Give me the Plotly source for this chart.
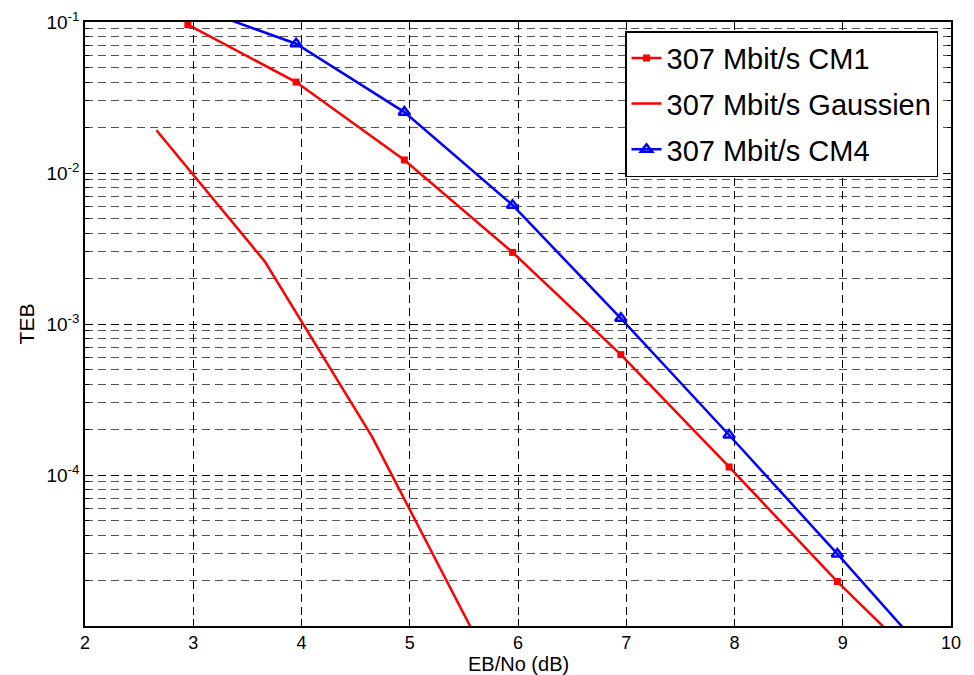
import plotly.graph_objects as go

# Data
x_cm1 = [2.95, 3.95, 4.95, 5.95, 6.95, 7.95, 8.95, 9.95]
y_cm1 = [0.096, 0.040, 0.0122, 0.00298, 6.27e-4, 1.13e-4, 1.97e-5, 3.9e-6]

x_gauss = [2.66, 3.66, 4.65, 5.66]
y_gauss = [0.0192, 2.6e-3, 1.8e-4, 7.2e-6]

x_cm4 = [2.95, 3.95, 4.95, 5.95, 6.95, 7.95, 8.95, 9.95]
y_cm4 = [0.13, 0.0718, 0.0253, 0.00612, 1.09e-3, 1.84e-4, 3.0e-5, 4.7e-6]

y_major = [1e-4, 1e-3, 1e-2, 1e-1]
y_major_text = ["10<sup>-4</sup>", "10<sup>-3</sup>", "10<sup>-2</sup>", "10<sup>-1</sup>"]
y_minor = [m * 10.0 ** e for e in range(-5, -1) for m in range(2, 10)]
x_ticks = [2, 3, 4, 5, 6, 7, 8, 9, 10]
x_title = "EB/No (dB)"
y_title = "TEB"

FONT = "Liberation Sans, Arial, sans-serif"

fig = go.Figure()
fig.add_trace(go.Scatter(
    x=x_cm1, y=y_cm1, mode="lines+markers", name="307 Mbit/s CM1",
    legendgroup="a",
    line=dict(color="#ff0000", width=2.5),
    marker=dict(symbol="square", size=7, color="#ff0000"),
))
fig.add_trace(go.Scatter(
    x=x_gauss, y=y_gauss, mode="lines", name="307 Mbit/s Gaussien",
    legendgroup="b",
    line=dict(color="#ff0000", width=2.5),
))
fig.add_trace(go.Scatter(
    x=x_cm4, y=y_cm4, mode="lines+markers", name="307 Mbit/s CM4",
    legendgroup="c",
    line=dict(color="#0000ff", width=2.5),
    marker=dict(symbol="triangle-up-open", size=10, color="#0000ff",
                line=dict(width=2.5, color="#0000ff")),
))

grid_dash = "8px,5px"
fig.update_layout(
    width=958, height=667,
    margin=dict(l=77, r=15, t=14, b=49),
    paper_bgcolor="white", plot_bgcolor="white",
    font=dict(family=FONT, size=18, color="black"),
    showlegend=True,
    legend=dict(
        x=0.985, y=0.985, xanchor="right", yanchor="top",
        bgcolor="white", bordercolor="black", borderwidth=1.5,
        font=dict(family=FONT, size=29, color="black"),
        itemwidth=30, traceorder="grouped", tracegroupgap=5,
    ),
    xaxis=dict(
        range=[2, 10], tickvals=x_ticks, ticks="inside", ticklen=7,
        tickcolor="black", showline=True, linecolor="black", linewidth=1.5,
        mirror="ticks", showgrid=True, gridcolor="black", gridwidth=1,
        griddash=grid_dash, zeroline=False, automargin=False,
        tickfont=dict(size=18),
    ),
    yaxis=dict(
        type="log", range=[-5, -1], tickmode="array",
        tickvals=y_major, ticktext=y_major_text,
        ticks="inside", ticklen=7, tickcolor="black",
        showline=True, linecolor="black", linewidth=1.5, mirror="ticks",
        showgrid=True, gridcolor="black", gridwidth=1, griddash=grid_dash,
        zeroline=False, automargin=False,
        minor=dict(tickmode="array", tickvals=y_minor, ticks="inside",
                   ticklen=4, tickcolor="black", showgrid=True,
                   gridcolor="#555555", gridwidth=1, griddash=grid_dash),
        title=dict(text=y_title, font=dict(size=21), standoff=6),
        tickfont=dict(size=19),
    ),
    annotations=[dict(
        text=x_title, xref="paper", yref="paper", x=0.5, y=-0.063,
        xanchor="center", yanchor="middle", showarrow=False,
        font=dict(family=FONT, size=20, color="black"),
    )],
)

fig.write_html("out.html")
